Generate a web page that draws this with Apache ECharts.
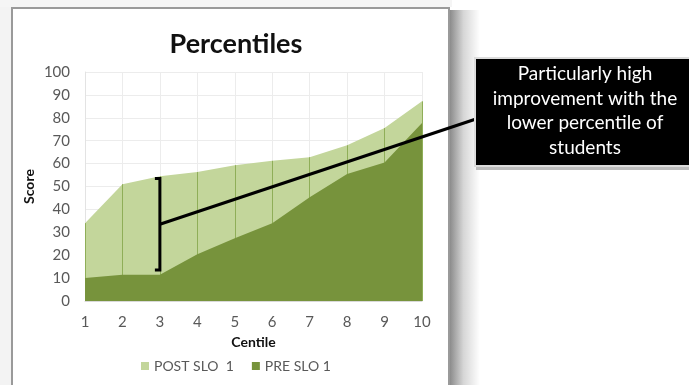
<!DOCTYPE html>
<html>
<head>
<meta charset="utf-8">
<script src="https://cdn.jsdelivr.net/npm/echarts@6/dist/echarts.min.js"></script>
<style>
  html, body { margin: 0; padding: 0; background: #ffffff; }
  #chart { width: 689px; height: 385px; }
</style>
</head>
<body>
<div id="chart"></div>
<script>
// Centile buckets and the two score series
const centiles = ['1', '2', '3', '4', '5', '6', '7', '8', '9', '10'];
const postScores = [34, 51, 54.5, 56.3, 59.3, 61.2, 62.8, 68, 75.5, 87.2];
const preScores = [10, 11.5, 11.5, 20.4, 27.4, 34, 45.3, 55.5, 60.5, 77.7];
const seriesNames = ['POST SLO  1', 'PRE SLO 1'];
const calloutLines = ['Particularly high', 'improvement with the', 'lower percentile of', 'students'];

const FONT = 'Lato, "Open Sans", sans-serif';
const chart = echarts.init(document.getElementById('chart'), null, { renderer: 'canvas' });

// Drop lines from the axis up to each POST value
const dropLines = centiles.map((c, i) => [
  { coord: [c, 0] },
  { coord: [c, postScores[i]] }
]);

const option = {
  animation: false,
  backgroundColor: '#ffffff',
  textStyle: { fontFamily: FONT },
  title: {
    text: 'Percentiles',
    left: 231,
    textAlign: 'center',
    top: 26,
    textStyle: { fontFamily: FONT, fontSize: 27, fontWeight: 'bold', color: '#111111' }
  },
  legend: {
    left: 136,
    top: 354,
    itemWidth: 8,
    itemHeight: 8,
    itemGap: 18,
    icon: 'rect',
    textStyle: { fontFamily: FONT, fontSize: 14, color: '#595959' },
    data: seriesNames
  },
  grid: { left: 85, right: 267, top: 72, bottom: 84 },
  xAxis: {
    type: 'category',
    data: centiles,
    boundaryGap: false,
    name: 'Centile',
    nameLocation: 'middle',
    nameGap: 34,
    nameTextStyle: { fontFamily: FONT, fontSize: 14, fontWeight: 'bold', color: '#111111' },
    axisLine: { show: true, lineStyle: { color: '#d9d9d9' } },
    axisTick: { show: false },
    axisLabel: { fontFamily: FONT, fontSize: 15, color: '#595959', margin: 14 },
    splitLine: { show: true, lineStyle: { color: '#ececec', width: 1 } }
  },
  yAxis: {
    type: 'value',
    min: 0,
    max: 100,
    interval: 10,
    name: 'Score',
    nameLocation: 'middle',
    nameGap: 49,
    nameTextStyle: { fontFamily: FONT, fontSize: 14, fontWeight: 'bold', color: '#111111' },
    axisLine: { show: true, lineStyle: { color: '#e3e3e3' } },
    axisTick: { show: false },
    axisLabel: { fontFamily: FONT, fontSize: 15, color: '#595959', margin: 15 },
    splitLine: { show: true, lineStyle: { color: '#ececec', width: 1 } }
  },
  series: [
    {
      name: seriesNames[0],
      type: 'line',
      data: postScores,
      z: 2,
      showSymbol: false,
      symbol: 'none',
      lineStyle: { width: 0 },
      itemStyle: { color: '#c3d69b' },
      areaStyle: { color: '#c3d69b', opacity: 1 },
      markLine: {
        silent: true,
        z: 3,
        symbol: ['none', 'none'],
        label: { show: false },
        lineStyle: { color: '#8fae58', width: 1, type: 'solid' },
        data: dropLines
      }
    },
    {
      name: seriesNames[1],
      type: 'line',
      data: preScores,
      z: 4,
      showSymbol: false,
      symbol: 'none',
      lineStyle: { width: 0 },
      itemStyle: { color: '#77933c' },
      areaStyle: { color: '#77933c', opacity: 1 }
    }
  ]
};

chart.setOption(option);

// Page frame, shadow, bracket and callout
const bx = chart.convertToPixel({ xAxisIndex: 0 }, centiles[2]);
const bTop = chart.convertToPixel({ yAxisIndex: 0 }, 53.5);
const bBot = chart.convertToPixel({ yAxisIndex: 0 }, 13.5);
const bMid = chart.convertToPixel({ yAxisIndex: 0 }, 33.5);

chart.setOption({
  graphic: [
    { type: 'rect', z: -10, silent: true, shape: { x: 0, y: 0, width: 11, height: 385 }, style: { fill: '#f3f3f3' } },
    { type: 'rect', z: -10, silent: true, shape: { x: 0, y: 0, width: 452, height: 7 }, style: { fill: '#f5f5f5' } },
    {
      type: 'rect', z: -10, silent: true,
      shape: { x: 450, y: 10, width: 30, height: 375 },
      style: {
        fill: new echarts.graphic.LinearGradient(0, 0, 1, 0, [
          { offset: 0, color: '#8c8c8c' },
          { offset: 0.45, color: '#d6d6d6' },
          { offset: 1, color: '#ffffff' }
        ])
      }
    },
    {
      type: 'rect', z: -9, silent: true,
      shape: { x: 12, y: 8, width: 437, height: 400 },
      style: { fill: '#ffffff', stroke: '#9a9a9a', lineWidth: 2 }
    },
    // Bracket spanning the gap at centile 3
    {
      type: 'polyline', z: 50, silent: true,
      shape: { points: [[bx - 5, bTop], [bx, bTop], [bx, bBot], [bx - 5, bBot]] },
      style: { stroke: '#000000', lineWidth: 3, fill: null }
    },
    // Connector to the callout
    {
      type: 'line', z: 50, silent: true,
      shape: { x1: bx, y1: bMid, x2: 476, y2: 119 },
      style: { stroke: '#000000', lineWidth: 3 }
    },
    // Callout box
    {
      type: 'rect', z: 49, silent: true,
      shape: { x: 476, y: 167, width: 213, height: 3 },
      style: { fill: '#bdbdbd' }
    },
    {
      type: 'rect', z: 50, silent: true,
      shape: { x: 475, y: 58, width: 216, height: 108 },
      style: { fill: '#000000', stroke: '#dcdcdc', lineWidth: 2 }
    },
    {
      type: 'text', z: 51, silent: true,
      x: 585,
      y: 62,
      style: {
        text: calloutLines.join('\n'),
        fill: '#ffffff',
        fontFamily: FONT,
        fontSize: 19,
        lineHeight: 24.5,
        align: 'center',
        verticalAlign: 'top'
      }
    }
  ]
});
</script>
</body>
</html>
